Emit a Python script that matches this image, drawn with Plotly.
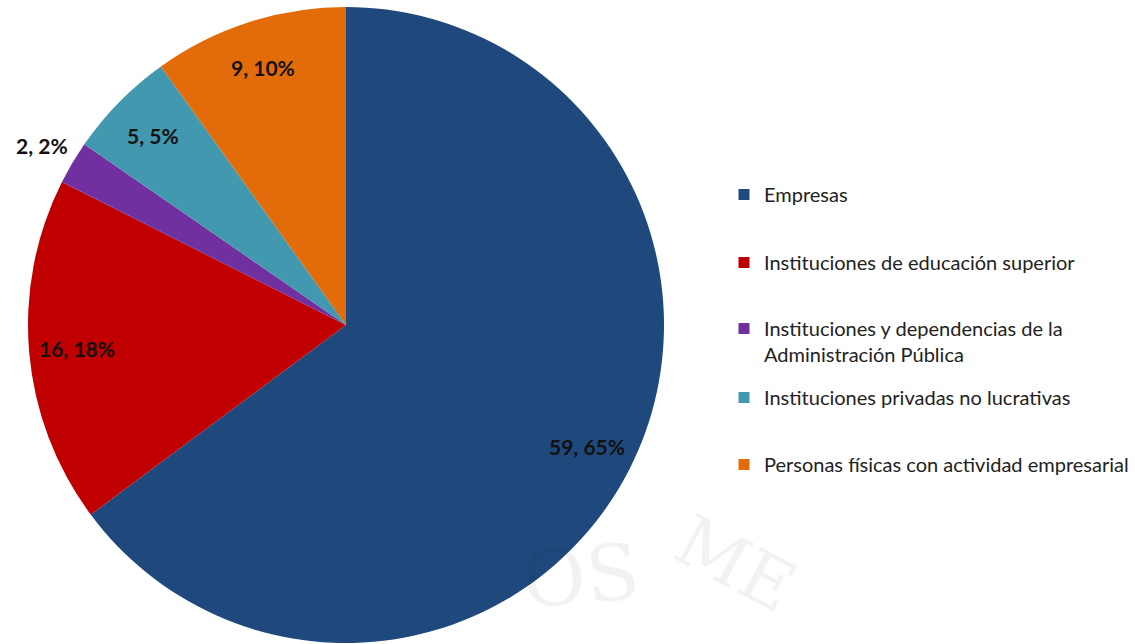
import math
import plotly.graph_objects as go

categories = ["Empresas",
              "Instituciones de educación superior",
              "Instituciones y dependencias de la<br>Administración Pública",
              "Instituciones privadas no lucrativas",
              "Personas físicas con actividad empresarial"]
values = [59, 16, 2, 5, 9]
colors = ["#1F497D", "#C00000", "#7030A0", "#4298AF", "#E36C0A"]
label_outside = [False, False, True, False, False]

W, H = 1135, 644
CX, CY, R = 346, 325, 318  # pie centre / radius in pixels

fig = go.Figure()

fig.add_trace(go.Pie(
    labels=categories, values=values, sort=False, direction="clockwise", rotation=0,
    marker=dict(colors=colors, line=dict(width=0)),
    textinfo="none",
    showlegend=False, hoverinfo="label+value+percent",
    domain=dict(x=[(CX - R) / W, (CX + R) / W], y=[1 - (CY + R) / H, 1 - (CY - R) / H]),
))

# data labels "value, percent" placed along each slice bisector
total = sum(values)
cum = 0
for v, outside in zip(values, label_outside):
    mid = (cum + v / 2) / total * 2 * math.pi
    cum += v
    f = 1.11 if outside else 0.85
    px = CX + f * R * math.sin(mid)
    py = CY - f * R * math.cos(mid)
    fig.add_annotation(
        text=f"{v}, {round(100 * v / total)}%",
        x=px / W, y=1 - py / H, xref="paper", yref="paper", showarrow=False,
        xanchor="center", yanchor="middle",
        font=dict(family="Lato", size=21, color="#111111", weight="bold"))

legend_y = [196, 264, 330, 399, 466]
legend_names = ["legend", "legend2", "legend3", "legend4", "legend5"]
legend_layout = {}
for name, cat, col, yy in zip(legend_names, categories, colors, legend_y):
    fig.add_trace(go.Scatter(
        x=[None], y=[None], mode="markers", name=cat, legend=name,
        marker=dict(symbol="square", size=11, color=col),
        showlegend=True, hoverinfo="skip"))
    legend_layout[name] = dict(
        x=724 / W, y=1 - (yy - 21) / H, xanchor="left", yanchor="top",
        bgcolor="rgba(0,0,0,0)", valign="top", itemwidth=30,
        font=dict(family="Lato", size=20, color="#222222"),
        tracegroupgap=0, itemclick=False, itemdoubleclick=False)

fig.update_layout(
    width=W, height=H,
    margin=dict(l=0, r=0, t=0, b=0),
    paper_bgcolor="white", plot_bgcolor="white",
    xaxis=dict(visible=False), yaxis=dict(visible=False),
    **legend_layout,
)

# faint watermark
fig.add_annotation(text="OS", x=580 / W, y=1 - 628 / H, xref="paper", yref="paper",
                   showarrow=False, textangle=-5,
                   font=dict(family="DejaVu Serif", size=78, color="rgba(0,0,0,0.05)"))
fig.add_annotation(text="ME", x=735 / W, y=1 - 632 / H, xref="paper", yref="paper",
                   showarrow=False, textangle=28,
                   font=dict(family="DejaVu Serif", size=70, color="rgba(0,0,0,0.05)"))

fig.write_html("out.html", post_script="document.body.style.margin='0';",
               config={"displayModeBar": False})
